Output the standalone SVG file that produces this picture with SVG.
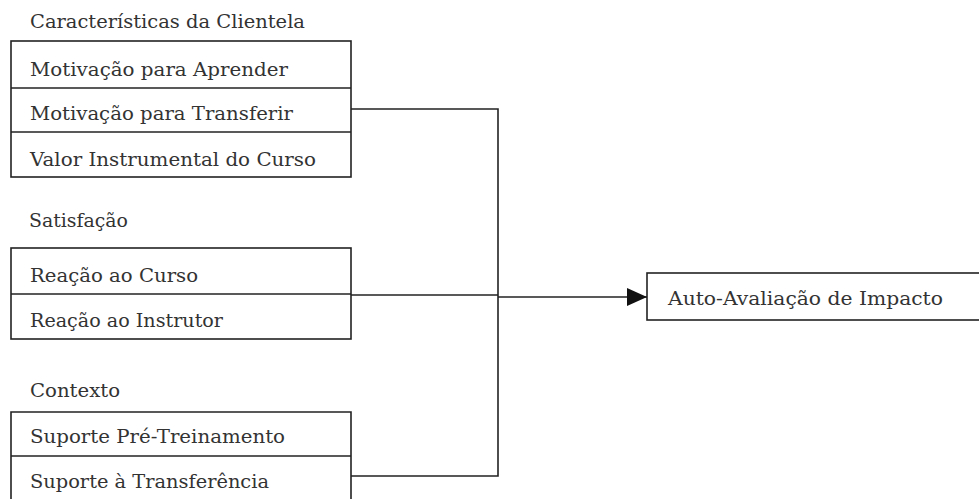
<svg xmlns="http://www.w3.org/2000/svg" width="979" height="499" viewBox="0 0 979 499">
<style>
.box{fill:none;stroke:#222;stroke-width:1.6}
.ln{fill:none;stroke:#222;stroke-width:1.6}
.t{font-family:"DejaVu Serif","Liberation Serif",serif;font-size:19px;fill:#333}
</style>
<defs>
<marker id="ah" markerWidth="20" markerHeight="18" refX="20" refY="9" orient="auto" markerUnits="userSpaceOnUse">
<path d="M0,0 L20,9 L0,18 Z" fill="#111"/>
</marker>
</defs>
<rect width="979" height="499" fill="#fff"/>
<g id="clientela" class="t">
<text x="30" y="28" textLength="275" lengthAdjust="spacingAndGlyphs">Características da Clientela</text>
<rect class="box" x="11" y="41" width="340" height="136"/>
<line class="ln" x1="11" y1="88" x2="351" y2="88"/>
<line class="ln" x1="11" y1="132" x2="351" y2="132"/>
<text x="30" y="76" textLength="258" lengthAdjust="spacingAndGlyphs">Motivação para Aprender</text>
<text x="30" y="120" textLength="263" lengthAdjust="spacingAndGlyphs">Motivação para Transferir</text>
<text x="30" y="166" textLength="286" lengthAdjust="spacingAndGlyphs">Valor Instrumental do Curso</text>
</g>
<g id="satisfacao" class="t">
<text x="29" y="227" textLength="99" lengthAdjust="spacingAndGlyphs">Satisfação</text>
<rect class="box" x="11" y="248" width="340" height="91"/>
<line class="ln" x1="11" y1="294" x2="351" y2="294"/>
<text x="30" y="282" textLength="168" lengthAdjust="spacingAndGlyphs">Reação ao Curso</text>
<text x="30" y="327" textLength="193" lengthAdjust="spacingAndGlyphs">Reação ao Instrutor</text>
</g>
<g id="contexto" class="t">
<text x="30" y="397" textLength="90" lengthAdjust="spacingAndGlyphs">Contexto</text>
<path class="box" d="M11,510 L11,412 L351,412 L351,510"/>
<line class="ln" x1="11" y1="456" x2="351" y2="456"/>
<text x="30" y="443" textLength="255" lengthAdjust="spacingAndGlyphs">Suporte Pré-Treinamento</text>
<text x="30" y="488" textLength="239" lengthAdjust="spacingAndGlyphs">Suporte à Transferência</text>
</g>
<g id="impacto" class="t">
<rect class="box" x="647" y="273" width="345" height="47"/>
<text x="668" y="305" textLength="275" lengthAdjust="spacingAndGlyphs">Auto-Avaliação de Impacto</text>
</g>
<g id="connectors">
<path class="ln" d="M351,109 L498,109 L498,476 L351,476"/>
<path class="ln" d="M351,295 L498,295"/>
<path class="ln" d="M498,297 L647,297" marker-end="url(#ah)"/>
</g>
</svg>
